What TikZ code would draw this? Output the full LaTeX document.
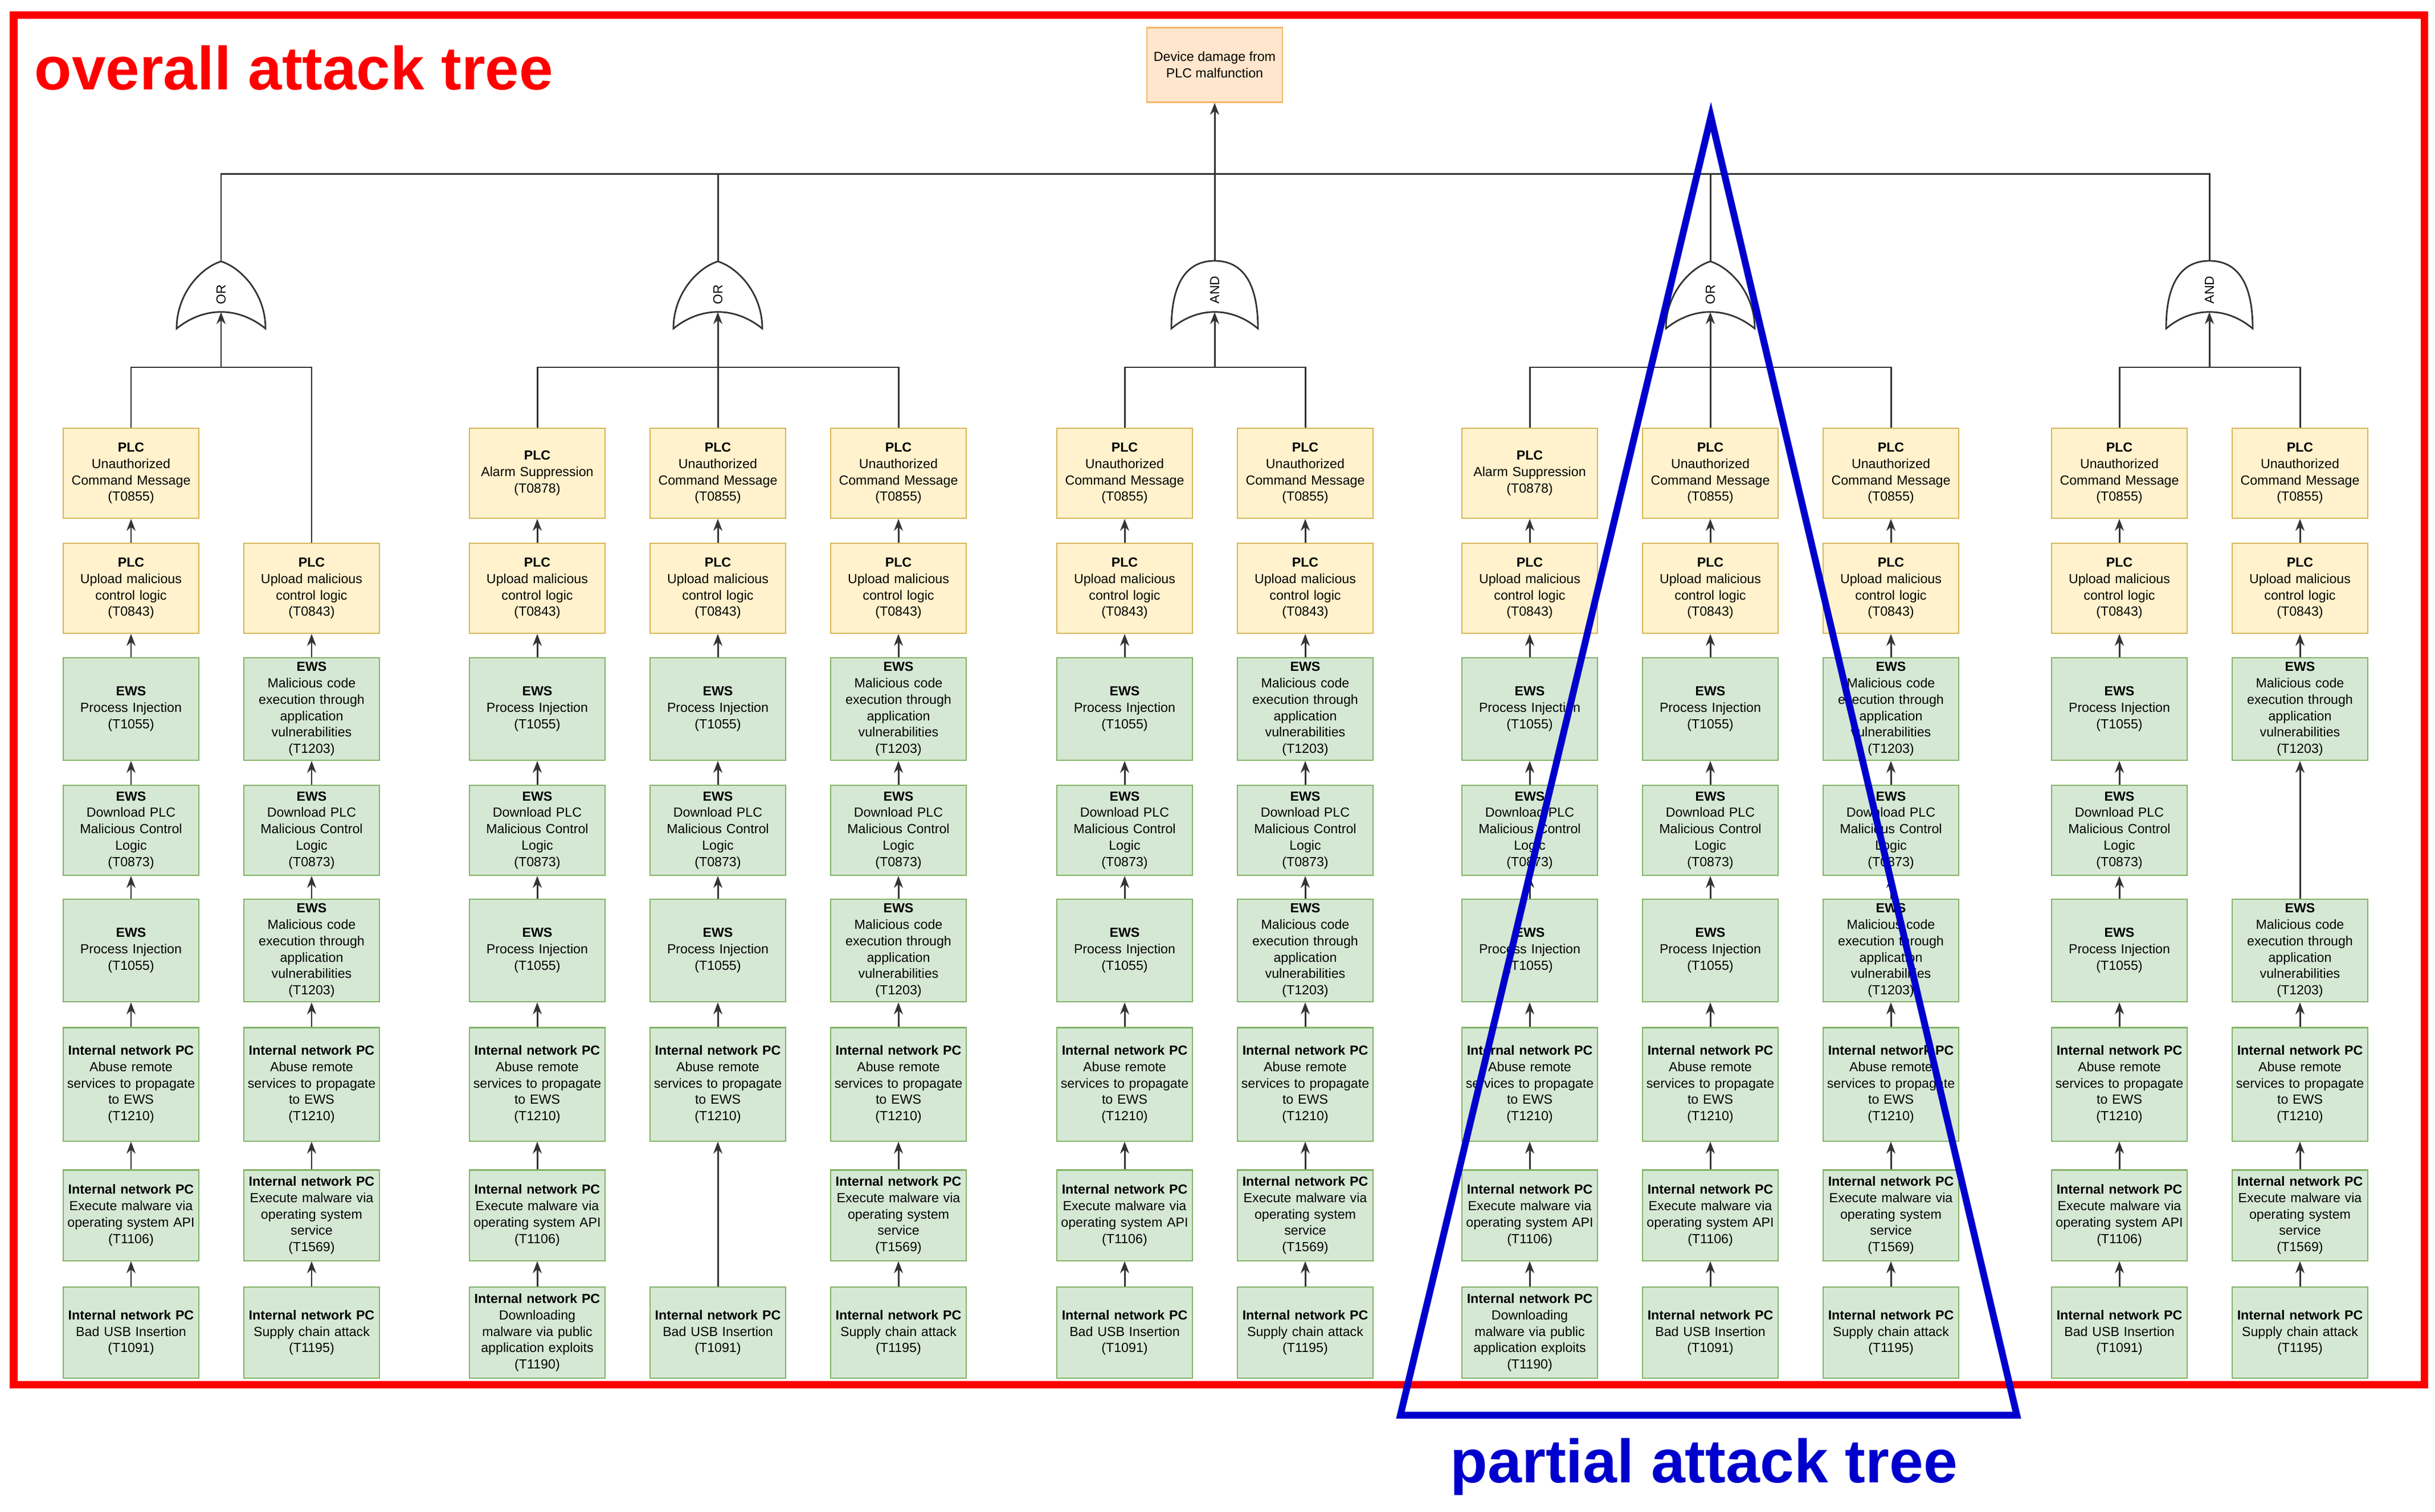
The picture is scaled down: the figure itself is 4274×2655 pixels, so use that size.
\documentclass[tikz,border=0pt]{standalone}
\usepackage{fontspec}
\setmainfont{Liberation Sans}
\usetikzlibrary{arrows.meta}
\definecolor{plcF}{HTML}{FFF2CC}\definecolor{plcD}{HTML}{D6B656}
\definecolor{ewsF}{HTML}{D5E8D4}\definecolor{ewsD}{HTML}{82B366}
\definecolor{rootF}{HTML}{FFE6CC}\definecolor{rootD}{HTML}{F5B66A}
\definecolor{lineC}{HTML}{333333}\definecolor{blueT}{HTML}{0000CC}
\newcommand{\txtU}{\textbf{PLC}\\Unauthorized\\Command Message\\(T0855)}
\newcommand{\txtS}{\textbf{PLC}\\Alarm Suppression\\(T0878)}
\newcommand{\txtL}{\textbf{PLC}\\Upload malicious\\control logic\\(T0843)}
\newcommand{\txtP}{\textbf{EWS}\\Process Injection\\(T1055)}
\newcommand{\txtM}{\textbf{EWS}\\Malicious code\\execution through\\application\\vulnerabilities\\(T1203)}
\newcommand{\txtD}{\textbf{EWS}\\Download PLC\\Malicious Control\\Logic\\(T0873)}
\newcommand{\txtA}{\textbf{Internal network PC}\\Abuse remote\\services to propagate\\to EWS\\(T1210)}
\newcommand{\txtX}{\textbf{Internal network PC}\\Execute malware via\\operating system API\\(T1106)}
\newcommand{\txtV}{\textbf{Internal network PC}\\Execute malware via\\operating system\\service\\(T1569)}
\newcommand{\txtB}{\textbf{Internal network PC}\\Bad USB Insertion\\(T1091)}
\newcommand{\txtC}{\textbf{Internal network PC}\\Supply chain attack\\(T1195)}
\newcommand{\txtW}{\textbf{Internal network PC}\\Downloading\\malware via public\\application exploits\\(T1190)}
\newcommand{\myOrGate}[1]{\draw[lineC,line width=0.8pt,fill=white] ({#1-78},577) .. controls ({#1-78},515) and ({#1-35},470) .. ({#1},459) .. controls ({#1+35},470) and ({#1+78},515) .. ({#1+78},577) .. controls ({#1+30},538) and ({#1-30},538) .. cycle;}
\newcommand{\myAndGate}[1]{\draw[lineC,line width=0.8pt,fill=white] ({#1-76},577) .. controls ({#1-76},495) and ({#1-48},458) .. ({#1},458) .. controls ({#1+48},458) and ({#1+76},495) .. ({#1+76},577) .. controls ({#1+30},538) and ({#1-30},538) .. cycle;}
\tikzset{
  box/.style={rectangle,line width=0.6pt,minimum width=2.38cm,text width=2.36cm,inner sep=0pt,align=center,font=\fontsize{6.6}{8.2}\selectfont},
  plc/.style={box,fill=plcF,draw=plcD},
  ews/.style={box,fill=ewsF,draw=ewsD},
  conn/.style={lineC,line width=0.85pt},
  arr/.style={conn,-{Stealth[length=6pt,width=4.5pt]}},
  glabel/.style={rotate=90,font=\fontsize{6.5}{8}\selectfont,inner sep=0pt}
}
\begin{document}
\begin{tikzpicture}[x=0.01cm,y=-0.01cm]
\useasboundingbox (0,0) rectangle (4274,2655);
% columns
\foreach \col/\xx/\items in {a/230/{U,L,P,D,P,A,X,B}, b/547/{-,L,M,D,M,A,V,C}, c/943/{S,L,P,D,P,A,X,W}, d/1260/{U,L,P,D,P,A,-,B}, e/1577/{U,L,M,D,M,A,V,C}, f/1974/{U,L,P,D,P,A,X,B}, g/2291/{U,L,M,D,M,A,V,C}, h/2685/{S,L,P,D,P,A,X,W}, i/3002/{U,L,P,D,P,A,X,B}, j/3319/{U,L,M,D,M,A,V,C}, k/3720/{U,L,P,D,P,A,X,B}, l/4037/{U,L,M,-,M,A,V,C}} {
  \gdef\lastrow{}
  \foreach \t [count=\r] in \items {
    \if\t-\else
      \pgfmathsetmacro\yy{{831,1033,1245,1458,1669,1904,2134,2340}[\r-1]}
      \pgfmathsetmacro\hh{{158,158,180,158,180,199,159,160}[\r-1]/100}
      \ifnum\r<3 \def\sty{plc}\else\def\sty{ews}\fi
      \node[\sty,minimum height=\hh cm] (\col-\r) at (\xx,\yy) {\csname txt\t\endcsname};
      \ifx\lastrow\empty\else
        \draw[arr] (\col-\r.north) -- (\col-\lastrow.south);
      \fi
      \xdef\lastrow{\r}
    \fi
  }
}
% gates
\myOrGate{388}\myOrGate{1260}\myAndGate{2132}\myOrGate{3002}\myAndGate{3878}
\node[glabel] (g1) at (388,517) {OR};
\node[glabel] (g2) at (1260,517) {OR};
\node[glabel] (g3) at (2132,509) {AND};
\node[glabel] (g4) at (3002,517) {OR};
\node[glabel] (g5) at (3878,509) {AND};
\foreach \n/\gx in {1/388,2/1260,3/2132,4/3002,5/3878}{
  \coordinate (gt\n) at (\gx,459);
  \coordinate (gi\n) at (\gx,548);
  \coordinate (gb\n) at (\gx,645);
}
% lower buses
\draw[conn] (a-1.north) |- (gb1) -| (b-2.north);
\draw[conn] (c-1.north) |- (e-1.north|-gb2) -- (e-1.north);
\draw[conn] (d-1.north) -- (gb2);
\draw[conn] (f-1.north) |- (g-1.north|-gb3) -- (g-1.north);
\draw[conn] (h-1.north) |- (j-1.north|-gb4) -- (j-1.north);
\draw[conn] (i-1.north) -- (gb4);
\draw[conn] (k-1.north) |- (l-1.north|-gb5) -- (l-1.north);
\foreach \n in {1,...,5}{\draw[arr] (gb\n) -- (gi\n);}
% root
\node[rectangle,fill=rootF,draw=rootD,line width=0.6pt,minimum width=2.28cm,minimum height=1.31cm,align=center,font=\fontsize{6.6}{8.2}\selectfont] (root) at (2132,114) {Device damage from\\PLC malfunction};
\coordinate (bus) at (0,306);
\draw[conn] (gt1) -- (gt1|-bus) -- (gt5|-bus) -- (gt5);
\draw[conn] (gt2) -- (gt2|-bus);
\draw[conn] (gt4) -- (gt4|-bus);
\draw[arr] (gt3) -- (root.south);
% frames
\draw[red,line width=0.13cm] (24,27) rectangle (4255,2431);
\node[anchor=base west,inner sep=0pt,text=red,font=\fontsize{32}{36}\selectfont\bfseries] (t1) at (60,158) {\resizebox{9.1cm}{!}{overall attack tree}};
\coordinate (ta) at (3003,205);
\coordinate (tl) at (2458,2485);
\coordinate (tr) at (3540,2485);
\draw[blueT,line width=0.12cm,line join=miter] (ta) -- (tl) -- (tr) -- cycle;
\node[anchor=base west,inner sep=0pt,text=blueT,font=\fontsize{32}{36}\selectfont\bfseries] (t2) at (2545,2603) {\resizebox{8.9cm}{!}{partial attack tree}};
\end{tikzpicture}
\end{document}
